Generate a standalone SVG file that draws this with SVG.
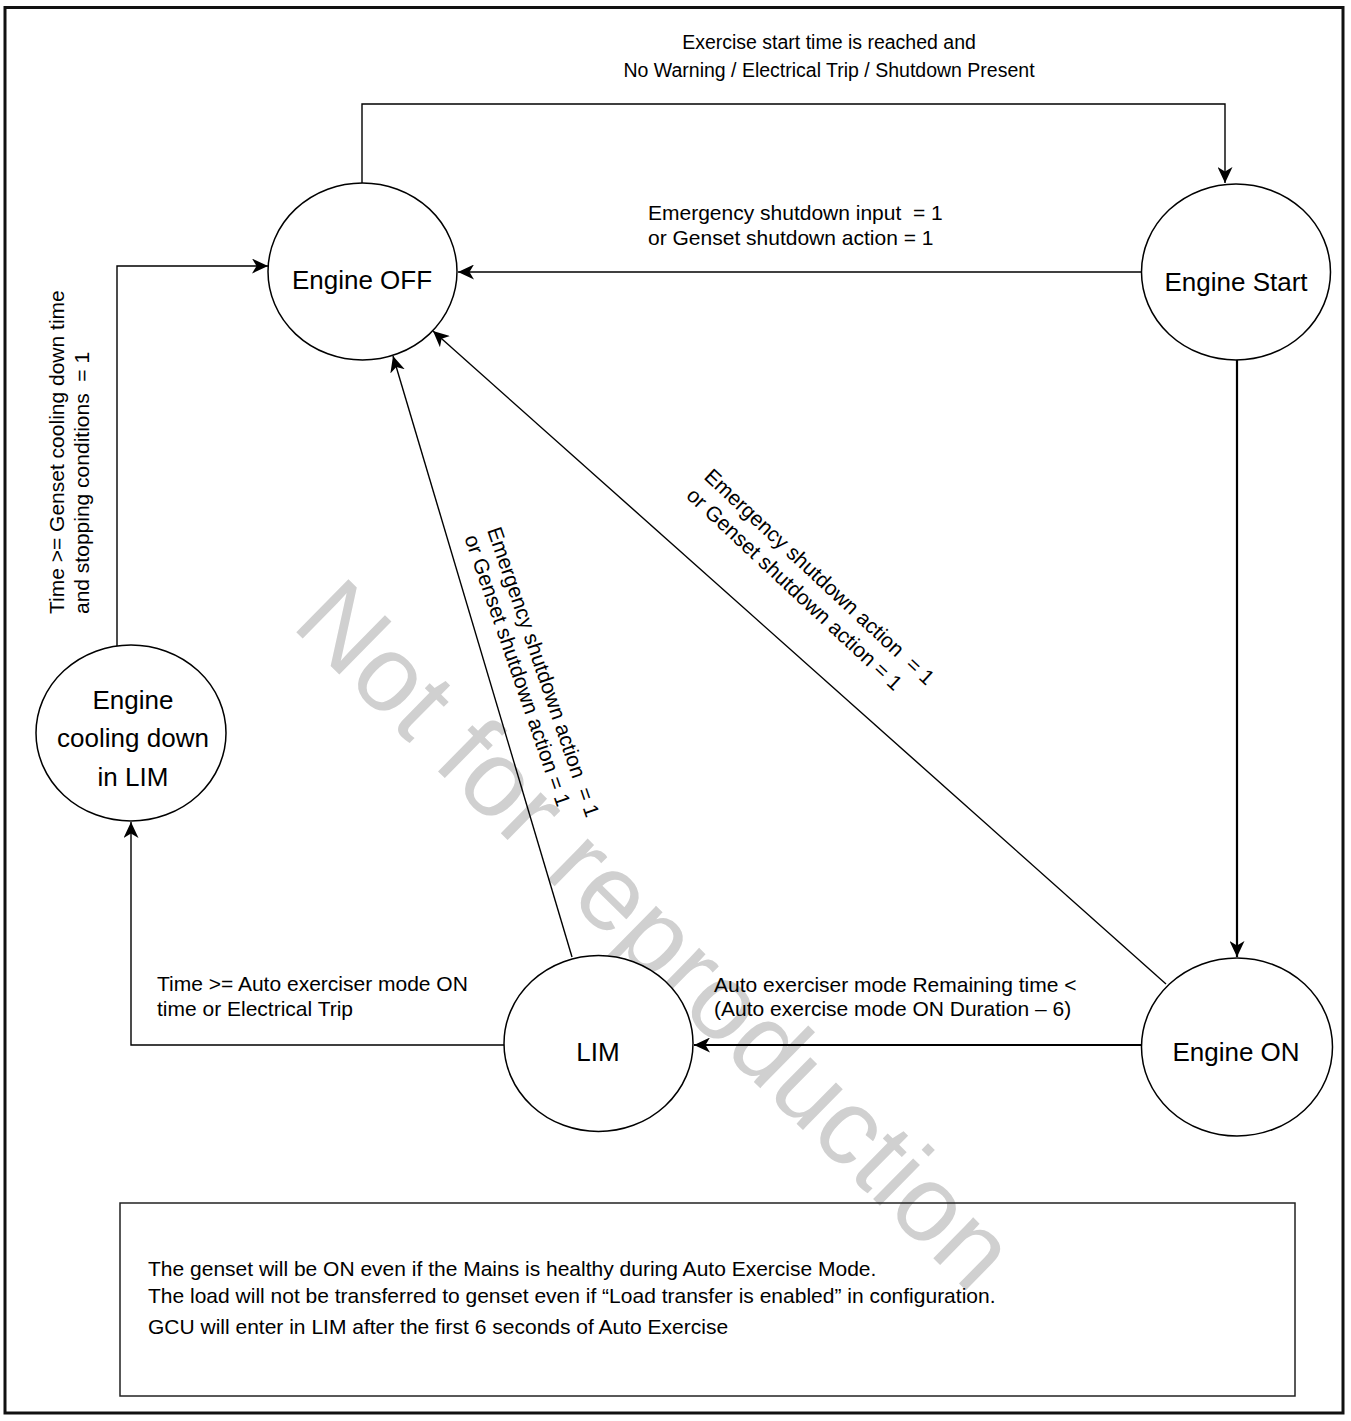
<svg xmlns="http://www.w3.org/2000/svg" width="1351" height="1421" viewBox="0 0 1351 1421">
<defs>
<style>
text{font-family:"Liberation Sans",Arial,Helvetica,sans-serif;fill:#000;white-space:pre}
.node{font-size:26px;text-anchor:middle}
.lbl{font-size:21px}
.top{font-size:19.5px;text-anchor:middle}
.wm{font-size:108px;fill:#d0d0d0}
.st{fill:#fff;stroke:#000;stroke-width:1.5}
.ln{fill:none;stroke:#000;stroke-width:1.4}
.thick{stroke-width:2.2}
</style>
<marker id="arr" markerUnits="userSpaceOnUse" markerWidth="17" markerHeight="15" refX="16" refY="7.5" orient="auto">
<path d="M0,0 L16,7.5 L0,15 L4.5,7.5 Z" fill="#000"/>
</marker>
</defs>
<rect x="0" y="0" width="1351" height="1421" fill="#fff"/>
<text class="wm" transform="translate(290,626) rotate(44.5)">Not for reproduction</text>
<rect x="5" y="7.5" width="1338" height="1405.5" fill="none" stroke="#111" stroke-width="3"/>

<g id="connectors">
<path class="ln" d="M362,183 V104 H1225 V183" marker-end="url(#arr)"/>
<path class="ln" d="M1141,272 H458" marker-end="url(#arr)"/>
<path class="ln thick" d="M1237,360 V957" marker-end="url(#arr)"/>
<path class="ln thick" d="M1141,1045 H694" marker-end="url(#arr)"/>
<path class="ln" d="M504,1045 H131 V822" marker-end="url(#arr)"/>
<path class="ln" d="M117,646 V266 H268" marker-end="url(#arr)"/>
<path class="ln" d="M572,957 L393,356" marker-end="url(#arr)"/>
<path class="ln" d="M1166,984 L433,331" marker-end="url(#arr)"/>
</g>

<g id="node-engine-off">
<ellipse class="st" cx="362.5" cy="271.5" rx="94.5" ry="88.5"/>
<text class="node" x="362" y="289">Engine OFF</text>
</g>
<g id="node-engine-start">
<ellipse class="st" cx="1236" cy="272" rx="94.5" ry="88"/>
<text class="node" x="1236" y="291">Engine Start</text>
</g>
<g id="node-engine-on">
<ellipse class="st" cx="1237" cy="1047" rx="95.5" ry="89"/>
<text class="node" x="1236" y="1061">Engine ON</text>
</g>
<g id="node-lim">
<ellipse class="st" cx="598.5" cy="1043.5" rx="94.5" ry="88"/>
<text class="node" x="598" y="1061">LIM</text>
</g>
<g id="node-cooling">
<ellipse class="st" cx="131" cy="733" rx="95" ry="88"/>
<text class="node" x="133" y="709">Engine</text>
<text class="node" x="133" y="747">cooling down</text>
<text class="node" x="133" y="786">in LIM</text>
</g>

<g id="labels">
<text class="top" x="829" y="49">Exercise start time is reached and</text>
<text class="top" x="829" y="77">No Warning / Electrical Trip / Shutdown Present</text>
<text class="lbl" x="648" y="220">Emergency shutdown input  = 1</text>
<text class="lbl" x="648" y="245">or Genset shutdown action = 1</text>
<g transform="translate(64,614) rotate(-90)">
<text class="lbl" x="0" y="0">Time &gt;= Genset cooling down time</text>
<text class="lbl" x="0" y="25">and stopping conditions  = 1</text>
</g>
<g transform="translate(487,530) rotate(71)">
<text class="lbl" x="0" y="0">Emergency shutdown action  = 1</text>
<text class="lbl" x="0" y="24">or Genset shutdown action = 1</text>
</g>
<g transform="translate(703,478) rotate(43)">
<text class="lbl" x="0" y="0">Emergency shutdown action  = 1</text>
<text class="lbl" x="0" y="26">or Genset shutdown action = 1</text>
</g>
<text class="lbl" x="157" y="991">Time &gt;= Auto exerciser mode ON</text>
<text class="lbl" x="157" y="1016">time or Electrical Trip</text>
<text class="lbl" x="714" y="992">Auto exerciser mode Remaining time &lt;</text>
<text class="lbl" x="714" y="1016">(Auto exercise mode ON Duration – 6)</text>
</g>

<g id="note">
<rect x="120" y="1203" width="1175" height="193" fill="none" stroke="#222" stroke-width="1.5"/>
<text class="lbl" x="148" y="1276">The genset will be ON even if the Mains is healthy during Auto Exercise Mode.</text>
<text class="lbl" x="148" y="1303">The load will not be transferred to genset even if “Load transfer is enabled” in configuration.</text>
<text class="lbl" x="148" y="1334">GCU will enter in LIM after the first 6 seconds of Auto Exercise</text>
</g>
</svg>
